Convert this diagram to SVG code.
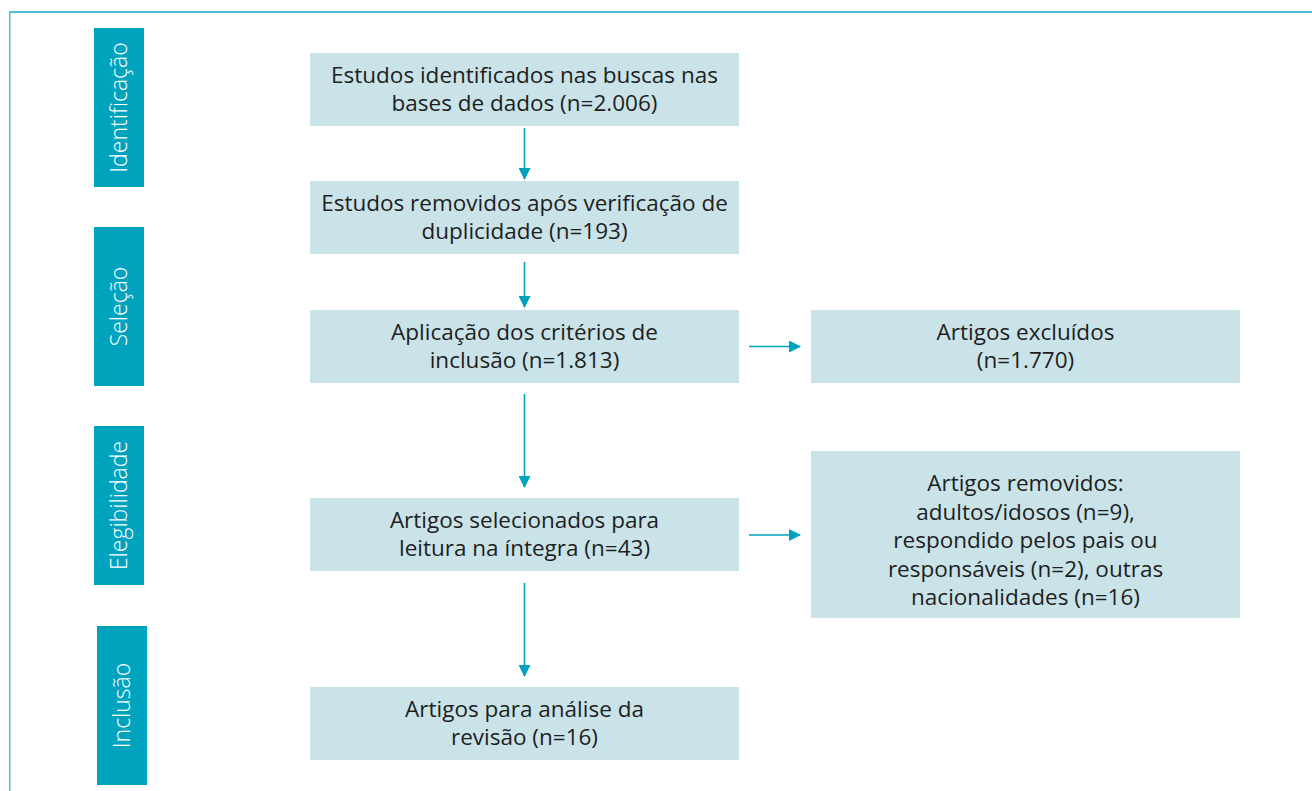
<svg xmlns="http://www.w3.org/2000/svg" width="1312" height="791" viewBox="0 0 1312 791">
<defs>
<style>
.box{fill:#c9e3e9}
.side{fill:#00a3bd}
.t{font-family:"Open Sans","Noto Sans",sans-serif;font-size:22.5px;fill:#1e1e1e;text-anchor:middle}
.st{font-family:"Open Sans","Noto Sans",sans-serif;font-size:23px;font-weight:300;fill:#ffffff;text-anchor:middle}
.c{stroke:#00a3bd;stroke-width:1.6;fill:none}
</style>
<marker id="ah" markerWidth="12" markerHeight="12" viewBox="0 0 12 12" refX="11" refY="6" orient="auto" markerUnits="userSpaceOnUse">
<path d="M0,0 L12,6 L0,12 Z" fill="#00a3bd"/>
</marker>
</defs>
<rect width="1312" height="791" fill="#ffffff"/>
<g id="frame">
<rect x="9" y="11" width="1303" height="2" fill="#55bdd3"/>
<rect x="9" y="11" width="1.5" height="780" fill="#55bdd3"/>
</g>
<g id="phase-identificacao">
<rect class="side" x="94" y="28" width="50" height="159"/>
<text class="st" transform="translate(127,107.5) rotate(-90)">Identificação</text>
</g>
<g id="phase-selecao">
<rect class="side" x="94" y="227" width="50" height="159"/>
<text class="st" transform="translate(127,306.5) rotate(-90)">Seleção</text>
</g>
<g id="phase-elegibilidade">
<rect class="side" x="94" y="426" width="50" height="159"/>
<text class="st" transform="translate(127,505.5) rotate(-90)">Elegibilidade</text>
</g>
<g id="phase-inclusao">
<rect class="side" x="97" y="626" width="50" height="159"/>
<text class="st" transform="translate(130,705.5) rotate(-90)">Inclusão</text>
</g>
<g id="n1">
<rect class="box" x="310" y="53" width="429" height="73"/>
<text class="t" x="524.5" y="83">Estudos identificados nas buscas nas</text>
<text class="t" x="524.5" y="111">bases de dados (n=2.006)</text>
</g>
<g id="n2">
<rect class="box" x="310" y="181" width="429" height="73"/>
<text class="t" x="524.5" y="211">Estudos removidos após verificação de</text>
<text class="t" x="524.5" y="239">duplicidade (n=193)</text>
</g>
<g id="n3">
<rect class="box" x="310" y="310" width="429" height="73"/>
<text class="t" x="524.5" y="340">Aplicação dos critérios de</text>
<text class="t" x="524.5" y="368">inclusão (n=1.813)</text>
</g>
<g id="n4">
<rect class="box" x="811" y="310" width="429" height="73"/>
<text class="t" x="1025.5" y="340">Artigos excluídos</text>
<text class="t" x="1025.5" y="368">(n=1.770)</text>
</g>
<g id="n5">
<rect class="box" x="310" y="498" width="429" height="73"/>
<text class="t" x="524.5" y="528">Artigos selecionados para</text>
<text class="t" x="524.5" y="556">leitura na íntegra (n=43)</text>
</g>
<g id="n6">
<rect class="box" x="811" y="451" width="429" height="167"/>
<text class="t" x="1025.5" y="491">Artigos removidos:</text>
<text class="t" x="1025.5" y="519.5">adultos/idosos (n=9),</text>
<text class="t" x="1025.5" y="548">respondido pelos pais ou</text>
<text class="t" x="1025.5" y="576.5">responsáveis (n=2), outras</text>
<text class="t" x="1025.5" y="605">nacionalidades (n=16)</text>
</g>
<g id="n7">
<rect class="box" x="310" y="687" width="429" height="73"/>
<text class="t" x="524.5" y="717">Artigos para análise da</text>
<text class="t" x="524.5" y="745">revisão (n=16)</text>
</g>
<g id="connectors">
<line class="c" x1="524.5" y1="128" x2="524.5" y2="179" marker-end="url(#ah)"/>
<line class="c" x1="524.5" y1="262" x2="524.5" y2="307" marker-end="url(#ah)"/>
<line class="c" x1="524.5" y1="394" x2="524.5" y2="487" marker-end="url(#ah)"/>
<line class="c" x1="524.5" y1="583" x2="524.5" y2="676" marker-end="url(#ah)"/>
<line class="c" x1="749" y1="346.5" x2="800" y2="346.5" marker-end="url(#ah)"/>
<line class="c" x1="749" y1="535" x2="800" y2="535" marker-end="url(#ah)"/>
</g>
</svg>
